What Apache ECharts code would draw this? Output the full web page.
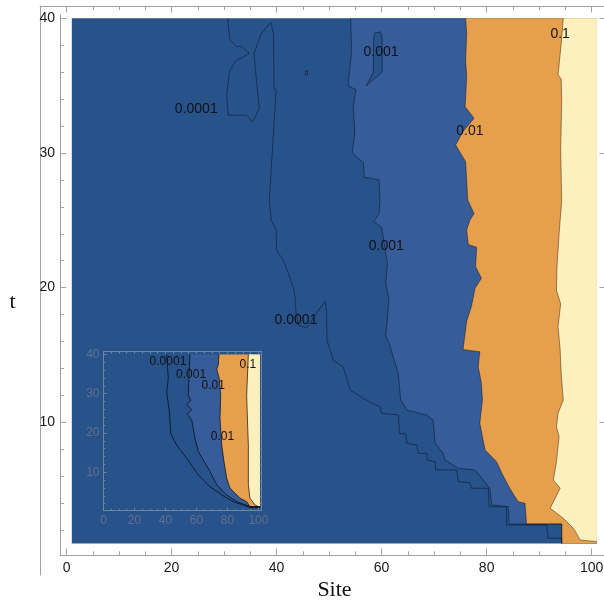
<!DOCTYPE html>
<html>
<head>
<meta charset="utf-8">
<script src="https://cdn.jsdelivr.net/npm/echarts@6/dist/echarts.min.js"></script>
<style>html,body{margin:0;padding:0;background:#fff}#c{width:604px;height:600px}</style>
</head>
<body>
<div id="c"></div>
<script>
// ---------- data ----------
const siteMajor = [0, 20, 40, 60, 80, 100];
const siteMinor = [5, 10, 15, 25, 30, 35, 45, 50, 55, 65, 70, 75, 85, 90, 95];
const tMajor = [10, 20, 30, 40];
const tMinor = [2, 4, 6, 8, 12, 14, 16, 18, 22, 24, 26, 28, 32, 34, 36, 38];
const siteRange = [1, 101];
const tRange = [1, 40];

// main plot contours, [site, t]
const main1e4 = [[30.67,40.0],[31.1,38.4],[32.4,37.9],[33.3,37.9],[34.8,37.4],[32.1,36.8],[31.0,36.0],[30.5,34.3],[30.8,32.8],[34.3,32.8],[35.4,32.3],[36.7,33.3],[36.2,35.2],[35.7,37.4],[37.1,38.9],[38.9,39.7],[39.4,38.9],[39.5,34.8],[39.9,34.7],[39.2,30.2],[38.6,26.5],[39.0,25.0],[39.9,24.3],[40.0,22.8],[41.3,22.0],[42.5,20.8],[43.2,20.0],[43.5,19.3],[43.7,18.1],[44.2,17.2],[45.7,17.0],[49.2,19.0],[49.5,18.3],[49.6,16.1],[50.8,14.6],[52.7,14.1],[54.0,12.4],[56.8,11.7],[59.7,11.16],[60.0,10.67],[63.2,10.54],[63.4,9.18],[64.6,9.13],[64.8,8.44],[66.7,8.31],[67.0,7.70],[68.6,7.70],[68.7,7.20],[70.2,7.07],[70.3,6.46],[74.3,6.46],[74.6,5.59],[76.8,5.52],[77.1,5.10],[80.3,5.10],[80.5,3.73],[83.8,3.73],[83.8,2.38],[91.4,2.38],[91.7,1.39],[94.3,1.39],[94.3,1.0]];
const main1e4Dot = [[45.5,36.1],[45.9,36.1],[45.9,35.8],[45.5,35.8],[45.5,36.1]];
const main1e3 = [[54.1,40.0],[54.3,37.6],[53.6,35.0],[55.1,34.7],[54.6,33.4],[54.9,31.5],[54.4,30.0],[56.5,29.3],[56.7,28.2],[59.5,28.0],[59.7,26.5],[59.5,25.5],[58.5,24.9],[60.0,24.5],[61.1,21.8],[60.8,20.3],[61.4,19.1],[60.8,16.4],[61.4,15.9],[63.2,13.6],[63.6,11.7],[64.8,10.91],[68.6,10.54],[69.8,10.17],[70.2,8.44],[71.7,7.70],[72.1,7.20],[74.6,6.59],[77.6,6.46],[78.1,6.33],[80.6,5.10],[81.0,3.86],[84.1,3.73],[84.3,2.45],[87.6,2.45],[94.3,2.45],[94.3,1.0]];
const main1e2 = [[76.0,40.0],[76.2,38.9],[76.0,36.9],[76.2,35.66],[75.9,33.43],[77.6,32.57],[75.5,31.6],[74.1,30.59],[76.0,29.35],[76.4,26.5],[77.6,25.5],[76.8,25.0],[76.2,24.3],[76.5,23.2],[78.1,23.0],[77.9,21.55],[79.0,20.7],[77.8,19.95],[77.1,18.6],[76.2,17.5],[75.5,15.4],[78.7,15.24],[78.4,14.13],[79.0,12.9],[79.2,11.66],[78.7,9.93],[79.7,7.94],[81.9,7.07],[82.9,6.21],[84.4,5.10],[86.0,4.11],[87.3,3.99],[87.6,2.45],[94.3,2.45],[94.3,1.0]];
const main1e1 = [[94.6,40.0],[94.2,38.1],[93.6,35.8],[94.2,35.5],[94.3,33.9],[94.1,30.2],[94.3,26.5],[93.8,24.0],[93.4,21.55],[93.3,19.8],[94.1,18.8],[93.6,17.1],[94.0,15.4],[94.2,13.6],[94.6,11.66],[93.6,10.67],[93.3,9.67],[93.8,8.93],[93.3,7.07],[92.7,5.72],[94.0,5.10],[92.1,3.62],[94.6,2.87],[96.5,2.13],[97.1,1.76],[97.8,1.26],[101.0,1.14]];
const mainIsland = [[58.7,38.9],[59.7,39.0],[60.1,38.6],[60.1,36.0],[57.1,35.0],[58.4,36.0],[58.5,38.6],[58.7,38.9]];
const mainLabels = [['0.0001',24.7,33.26],['0.001',59.9,37.45],['0.01',76.8,31.6],['0.1',94.0,38.8],['0.001',60.9,23.1],['0.0001',43.7,17.6]];

// inset contours, [site, t]
const inset1e4 = [[40.8,40],[41.8,33.9],[40.8,30.5],[42.5,25.4],[43.4,19.9],[47.2,16.9],[53.7,13.55],[61.2,9.3],[68.7,6.3],[76.3,4.2],[83.8,2.5],[90.2,1.65],[94.5,1.0],[101,1.0]];
const inset1e3 = [[55.8,40],[55.2,33.9],[54.7,29.6],[56.3,28.3],[53.7,27.2],[56.9,26.0],[54.1,24.7],[56.9,23.4],[59.0,18.7],[61.2,15.3],[68.7,10.2],[73.1,6.8],[79.5,4.2],[86.0,2.5],[94.5,1.25],[101,1.2]];
const inset1e2 = [[74.5,40],[74.1,37.4],[73.1,36.2],[74.7,33.9],[75.6,29.6],[75.2,23.7],[76.3,16.9],[77.8,12.6],[79.5,8.5],[81.6,6.0],[83.8,5.1],[88.1,3.4],[92.4,2.5],[94.5,1.25],[101,1.2]];
const inset1e1 = [[93.5,40],[92.4,29.6],[93.1,21.1],[93.5,16.9],[93.5,6.8],[94.5,3.4],[97.8,1.65],[99.9,1.25],[101,1.2]];
const insetLabels = [['0.0001',41.6,38.1],['0.001',56.5,34.9],['0.01',70.8,32.0],['0.1',93.2,37.3],['0.01',76.8,19.1]];

// ---------- layout ----------
const MAIN = {left: 60, top: 15, width: 544, height: 540, xmin: -1.25, xmax: 102.35, ymin: 0.147, ymax: 40.245};
const FRAME = {left: 40, top: 6, right: 606, bottom: 575};
const INSET = {left: 103.5, top: 351.7, width: 158.2, height: 159, xmin: 0, xmax: 102.1, ymin: 0.2, ymax: 40.7};
const ppx = MAIN.width / (MAIN.xmax - MAIN.xmin);
const ppy = MAIN.height / (MAIN.ymax - MAIN.ymin);
const FX = {min: MAIN.xmin - (MAIN.left - FRAME.left) / ppx, max: MAIN.xmin + (FRAME.right - MAIN.left) / ppx};
const FY = {min: MAIN.ymin - (FRAME.bottom - (MAIN.top + MAIN.height)) / ppy, max: MAIN.ymax + (MAIN.top - FRAME.top) / ppy};

const C_DARK = '#27528a', C_MID = '#375c9a', C_ORANGE = '#e69f4c', C_CREAM = '#fdf0bf';
const AX = '#a2a2a2';
const INSET_AX = '#7283a0';
const INSET_LBL = '#607090';

function axis(o) {
  return Object.assign({
    type: 'value', splitLine: {show: false}, z: 20,
    axisLine: {show: false, onZero: false},
    axisTick: {show: false}, axisLabel: {show: false}
  }, o);
}
function ticks(vals, len, color) {
  return {show: true, inside: true, length: len, customValues: vals, lineStyle: {color: color, width: 1}};
}

const xAxes = [
  axis({gridIndex: 0, min: MAIN.xmin, max: MAIN.xmax, position: 'bottom',
    axisLine: {show: true, onZero: false, lineStyle: {color: AX, width: 1}},
    axisTick: ticks(siteMajor, 6.5, AX),
    axisLabel: {show: true, customValues: siteMajor, margin: 6, color: '#1a1a1a', fontSize: 14, fontFamily: 'Liberation Sans'}}),
  axis({gridIndex: 0, min: MAIN.xmin, max: MAIN.xmax, position: 'bottom', axisTick: ticks(siteMinor, 3.6, AX)}),
  axis({gridIndex: 1, min: FX.min, max: FX.max, position: 'top',
    axisLine: {show: true, onZero: false, lineStyle: {color: AX, width: 1}},
    axisTick: ticks(siteMajor, 6.5, AX)}),
  axis({gridIndex: 1, min: FX.min, max: FX.max, position: 'top', axisTick: ticks(siteMinor, 4, AX)}),
  axis({gridIndex: 2, min: INSET.xmin, max: INSET.xmax, position: 'bottom',
    axisLine: {show: true, onZero: false, lineStyle: {color: INSET_AX, width: 1}},
    axisTick: ticks(siteMajor, 3, INSET_AX),
    axisLabel: {show: true, customValues: siteMajor, margin: 4, color: INSET_LBL, fontSize: 12, fontFamily: 'Liberation Sans'}}),
  axis({gridIndex: 2, min: INSET.xmin, max: INSET.xmax, position: 'bottom', axisTick: ticks(siteMinor, 1.8, INSET_AX)}),
  axis({gridIndex: 2, min: INSET.xmin, max: INSET.xmax, position: 'top',
    axisLine: {show: true, onZero: false, lineStyle: {color: INSET_AX, width: 1}},
    axisTick: ticks(siteMajor.concat(siteMinor), 2, INSET_AX)})
];
const yAxes = [
  axis({gridIndex: 0, min: MAIN.ymin, max: MAIN.ymax, position: 'left',
    axisLine: {show: true, onZero: false, lineStyle: {color: AX, width: 1}},
    axisTick: ticks(tMajor, 6.5, AX),
    axisLabel: {show: true, customValues: tMajor, margin: 5, color: '#1a1a1a', fontSize: 14, fontFamily: 'Liberation Sans'}}),
  axis({gridIndex: 0, min: MAIN.ymin, max: MAIN.ymax, position: 'left', axisTick: ticks(tMinor, 4, AX)}),
  axis({gridIndex: 1, min: FY.min, max: FY.max, position: 'left',
    axisLine: {show: true, onZero: false, lineStyle: {color: AX, width: 1}}}),
  axis({gridIndex: 1, min: FY.min, max: FY.max, position: 'right',
    axisLine: {show: true, onZero: false, lineStyle: {color: AX, width: 1}},
    axisTick: ticks(tMajor, 6.5, AX)}),
  axis({gridIndex: 2, min: INSET.ymin, max: INSET.ymax, position: 'left',
    axisLine: {show: true, onZero: false, lineStyle: {color: INSET_AX, width: 1}},
    axisTick: ticks(tMajor, 3, INSET_AX),
    axisLabel: {show: true, customValues: tMajor, margin: 4, color: INSET_LBL, fontSize: 12, fontFamily: 'Liberation Sans'}}),
  axis({gridIndex: 2, min: INSET.ymin, max: INSET.ymax, position: 'left', axisTick: ticks(tMinor, 1.8, INSET_AX)}),
  axis({gridIndex: 2, min: INSET.ymin, max: INSET.ymax, position: 'right',
    axisLine: {show: true, onZero: false, lineStyle: {color: INSET_AX, width: 1}},
    axisTick: ticks(tMajor.concat(tMinor), 2, INSET_AX)})
];

function corners() {
  return [[siteRange[0], tRange[0]], [siteRange[1], tRange[0]], [siteRange[1], tRange[1]], [siteRange[0], tRange[1]]];
}
function rightOf(pts) {
  const last = pts[pts.length - 1];
  const extra = [];
  if (last[1] > tRange[0] && last[0] < siteRange[1]) extra.push([siteRange[1], last[1]]);
  if (last[0] < siteRange[1]) extra.push([siteRange[1], tRange[0]]);
  extra.push([siteRange[1], tRange[1]]);
  return pts.concat(extra);
}
function region(pts, color, xi, yi, z, stroke) {
  return {
    type: 'custom', xAxisIndex: xi, yAxisIndex: yi, z: z, silent: true, clip: false,
    data: [pts[0]],
    renderItem: function (params, api) {
      return {type: 'polygon', shape: {points: pts.map(function (p) { return api.coord(p); })},
        style: {fill: color, stroke: stroke || null, lineWidth: 0.8}};
    }
  };
}
function contour(pts, xi, yi, z, color, w) {
  return {type: 'line', xAxisIndex: xi, yAxisIndex: yi, z: z, silent: true, data: pts,
    symbol: 'none', showSymbol: false, lineStyle: {color: color, width: w}};
}
function labels(list, xi, yi, z, size) {
  return {
    type: 'custom', xAxisIndex: xi, yAxisIndex: yi, z: z, silent: true, clip: false,
    data: list.map(function (l) { return [l[1], l[2]]; }),
    renderItem: function (params, api) {
      const c = api.coord([api.value(0), api.value(1)]);
      return {type: 'text', x: c[0], y: c[1],
        style: {text: list[params.dataIndex][0], fill: '#111', fontSize: size, fontFamily: 'Liberation Sans', align: 'center', verticalAlign: 'middle'}};
    }
  };
}

const LINE_MAIN = 'rgba(0,0,0,0.5)';
const LINE_INSET = 'rgba(0,0,0,0.72)';
const series = [
  region(corners(), C_DARK, 0, 0, 1),
  region(rightOf(main1e3), C_MID, 0, 0, 2),
  region(mainIsland, C_DARK, 0, 0, 3, LINE_MAIN),
  region(rightOf(main1e2), C_ORANGE, 0, 0, 3),
  region(rightOf(main1e1), C_CREAM, 0, 0, 4),
  contour(main1e4, 0, 0, 5, LINE_MAIN, 0.8),
  contour(main1e4Dot, 0, 0, 5, LINE_MAIN, 0.8),
  contour(main1e3, 0, 0, 5, LINE_MAIN, 0.8),
  contour(main1e2, 0, 0, 5, LINE_MAIN, 0.8),
  contour(main1e1, 0, 0, 5, LINE_MAIN, 0.8),
  labels(mainLabels, 0, 0, 6, 14),
  region(corners(), C_DARK, 4, 4, 7),
  region(rightOf(inset1e3), C_MID, 4, 4, 8),
  region(rightOf(inset1e2), C_ORANGE, 4, 4, 9),
  region(rightOf(inset1e1), C_CREAM, 4, 4, 10),
  contour(inset1e4, 4, 4, 11, LINE_INSET, 0.9),
  contour(inset1e3, 4, 4, 11, LINE_INSET, 0.9),
  contour(inset1e2, 4, 4, 11, LINE_INSET, 0.9),
  contour(inset1e1, 4, 4, 11, LINE_INSET, 0.9),
  labels(insetLabels, 4, 4, 12, 12)
];

const chart = echarts.init(document.getElementById('c'), null, {renderer: 'canvas'});
chart.setOption({
  animation: false,
  backgroundColor: '#ffffff',
  grid: [
    {left: MAIN.left, top: MAIN.top, width: MAIN.width, height: MAIN.height, containLabel: false, outerBoundsMode: 'none'},
    {left: FRAME.left, top: FRAME.top, width: FRAME.right - FRAME.left, height: FRAME.bottom - FRAME.top, containLabel: false, outerBoundsMode: 'none'},
    {left: INSET.left, top: INSET.top, width: INSET.width, height: INSET.height, containLabel: false, outerBoundsMode: 'none'}
  ],
  xAxis: xAxes,
  yAxis: yAxes,
  graphic: [
    {type: 'text', x: 12.5, y: 302, z: 30, style: {text: 't', font: '22px "Liberation Serif"', fill: '#111', align: 'center', verticalAlign: 'middle'}},
    {type: 'text', x: 334.5, y: 590, z: 30, style: {text: 'Site', font: '22px "Liberation Serif"', fill: '#111', align: 'center', verticalAlign: 'middle'}}
  ],
  series: series
});
</script>
</body>
</html>
